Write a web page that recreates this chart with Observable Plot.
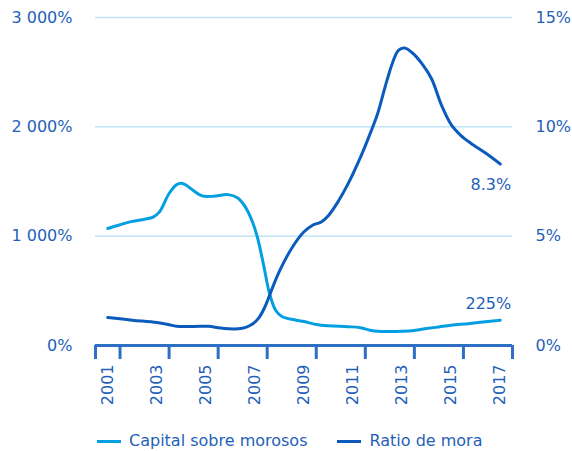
<!DOCTYPE html>
<html>
<head>
<meta charset="utf-8">
<script src="https://cdn.jsdelivr.net/npm/d3@7"></script>
<script src="https://cdn.jsdelivr.net/npm/@observablehq/plot@0.6"></script>
<style>
  body { margin: 0; background: #fff; font-family: "DejaVu Sans", sans-serif; }
  #legend { display: flex; align-items: center; margin-top: 11px; padding-left: 97px; height: 20px; line-height: 20px; font-size: 16px; color: #1f5fb8; }
  .item { display: flex; align-items: center; margin-right: 30px; }
  .sw { width: 24px; height: 3px; margin-right: 8px; }
</style>
</head>
<body>
<div id="chart"></div>
<div id="legend"></div>
<script>
// Series names
const seriesNames = ["Capital sobre morosos", "Ratio de mora"];

// Capital sobre morosos (left axis, %)
const capYears = [2001.0, 2001.5, 2002.0, 2002.5, 2002.85, 2003.1, 2003.5, 2003.8, 2004.0, 2004.2, 2004.5, 2004.85, 2005.3, 2005.9, 2006.3, 2006.6, 2006.9, 2007.1, 2007.35, 2007.6, 2007.85, 2008.1, 2008.6, 2009.0, 2009.5, 2010.0, 2010.8, 2011.3, 2011.7, 2012.0, 2012.5, 2013.0, 2013.5, 2014.0, 2014.5, 2015.0, 2015.7, 2016.3, 2017.0];
const capValues = [1070, 1105, 1135, 1155, 1175, 1220, 1390, 1470, 1485, 1465, 1415, 1368, 1365, 1380, 1350, 1270, 1130, 990, 740, 470, 320, 265, 235, 220, 192, 180, 172, 163, 140, 130, 128, 130, 138, 155, 170, 185, 200, 215, 232];

// Ratio de mora (right axis, %)
const moraYears = [2001.0, 2002.0, 2003.0, 2003.5, 2003.8, 2004.5, 2005.1, 2005.6, 2006.2, 2006.6, 2006.9, 2007.15, 2007.4, 2007.7, 2008.0, 2008.5, 2009.0, 2009.35, 2009.7, 2010.0, 2010.4, 2010.8, 2011.3, 2011.7, 2012.0, 2012.3, 2012.6, 2012.85, 2013.1, 2013.4, 2013.8, 2014.2, 2014.6, 2015.0, 2015.4, 2015.8, 2016.4, 2017.0];
const moraValues = [1.28, 1.16, 1.05, 0.95, 0.88, 0.87, 0.88, 0.8, 0.76, 0.82, 0.98, 1.25, 1.75, 2.6, 3.4, 4.45, 5.2, 5.5, 5.65, 5.95, 6.6, 7.4, 8.6, 9.7, 10.6, 11.8, 12.9, 13.5, 13.6, 13.4, 12.9, 12.2, 11.0, 10.1, 9.6, 9.25, 8.8, 8.3];

// End labels
const endLabels = ["225%", "8.3%"];

// Axis ticks
const leftTicks = [0, 1000, 2000, 3000];
const rightTicks = [0, 5, 10, 15];
const yearLabels = [2001, 2003, 2005, 2007, 2009, 2011, 2013, 2015, 2017];
const firstYear = 2001, lastYear = 2017;

const RATIO = 3000 / 15; // right axis -> left axis
const cLight = "#049fe0", cDark = "#0b5bbd", cText = "#1f5fb8", cAxis = "#2e6fc6", cGrid = "#bfe4f6";

const cap = capYears.map((x, i) => ({x, y: capValues[i]}));
const mora = moraYears.map((x, i) => ({x, y: moraValues[i] * RATIO}));

const boundaries = [firstYear - 0.5, ...yearLabels.filter(y => y < lastYear).map(y => y + 0.5), lastYear + 0.5];
const fmtLeft = d => d3.format(",")(d).replace(/,/g, " ") + "%";

const chart = Plot.plot({
  width: 572,
  height: 420,
  marginTop: 17,
  marginBottom: 75,
  marginLeft: 95,
  marginRight: 60,
  style: {fontFamily: "DejaVu Sans", fontSize: "16px", color: cText, background: "#fff"},
  x: {domain: [firstYear - 0.5, lastYear + 0.5]},
  y: {domain: [0, 3000]},
  marks: [
    Plot.ruleY(leftTicks.filter(d => d > 0), {stroke: cGrid, strokeWidth: 1.5}),
    Plot.axisY({anchor: "left", ticks: leftTicks, tickSize: 0, tickPadding: 23, tickFormat: fmtLeft, fill: cText, fontSize: 16, label: null}),
    Plot.axisY({anchor: "right", ticks: rightTicks.map(d => d * RATIO), tickSize: 0, tickPadding: 23, tickFormat: d => (d / RATIO) + "%", fill: cText, fontSize: 16, label: null}),
    Plot.axisX({ticks: boundaries, tickSize: 14, tickFormat: () => "", stroke: cAxis, strokeWidth: 3, label: null}),
    Plot.axisX({ticks: yearLabels, tickSize: 0, tickPadding: 19, tickRotate: -90, tickFormat: d => String(d), fill: cText, fontSize: 16, label: null}),
    Plot.ruleY([0], {stroke: cAxis, strokeWidth: 3}),
    Plot.line(cap, {x: "x", y: "y", stroke: cLight, strokeWidth: 3, curve: "catmull-rom"}),
    Plot.line(mora, {x: "x", y: "y", stroke: cDark, strokeWidth: 3, curve: "catmull-rom"}),
    Plot.text([cap[cap.length - 1]], {x: "x", y: "y", text: () => endLabels[0], textAnchor: "end", dx: 11, dy: -16, fill: cText, fontSize: 16}),
    Plot.text([mora[mora.length - 1]], {x: "x", y: "y", text: () => endLabels[1], textAnchor: "end", dx: 11, dy: 21, fill: cText, fontSize: 16})
  ]
});
document.getElementById("chart").appendChild(chart);

const legend = document.getElementById("legend");
[[seriesNames[0], cLight], [seriesNames[1], cDark]].forEach(([name, color]) => {
  const item = document.createElement("div");
  item.className = "item";
  const sw = document.createElement("span");
  sw.className = "sw";
  sw.style.background = color;
  const t = document.createElement("span");
  t.textContent = name;
  item.appendChild(sw);
  item.appendChild(t);
  legend.appendChild(item);
});
</script>
</body>
</html>
